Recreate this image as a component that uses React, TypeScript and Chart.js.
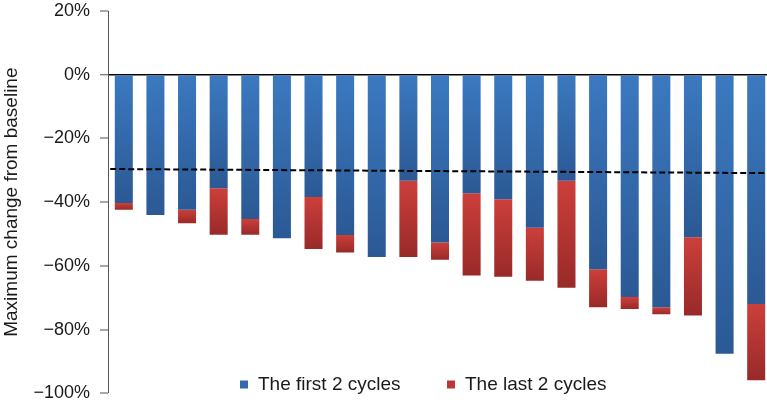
import { useEffect, useRef } from 'react';
import { Chart, registerables } from 'chart.js';

Chart.register(...registerables);

// Patients (hidden x axis), positioned by index
const categories = ['1', '2', '3', '4', '5', '6', '7', '8', '9', '10', '11', '12', '13', '14', '15', '16', '17', '18', '19', '20', '21'];
// Maximum change after the first 2 cycles (%)
const firstTwoCycles = [-40.3, -44.0, -42.4, -35.6, -45.3, -51.3, -38.4, -50.3, -57.2, -33.3, -52.7, -37.2, -39.1, -48.0, -33.3, -61.1, -69.8, -73.0, -51.0, -87.6, -72.0];
// Maximum change after the last 2 cycles (%)
const lastTwoCycles = [-42.4, -44.0, -46.6, -50.2, -50.2, -51.3, -54.7, -55.8, -57.2, -57.2, -58.1, -63.0, -63.4, -64.7, -66.9, -73.0, -73.5, -75.2, -75.6, -87.6, -95.9];
// Dashed trend line (x in patient-index units)
const trendX = [-0.43, 20.5];
const trendY = [-29.6, -30.9];
// Y tick values
const yTicks = [20, 0, -20, -40, -60, -80, -100];

const seriesLabels = ['The first 2 cycles', 'The last 2 cycles'];

const FONT = '"Liberation Sans", Arial, Helvetica, sans-serif';
const BLUE_TOP = '#3b79c0';
const BLUE_BOT = '#2b5994';
const RED_TOP = '#cc3f3b';
const RED_BOT = '#982a29';
const BLUE_MID = '#3468ad';
const RED_MID = '#bb3634';

function gradientFor(ctx: any, top: string, bottom: string, startOf: (i: number) => number, endOf: (i: number) => number) {
  const chart = ctx.chart;
  const y = chart.scales && chart.scales.y;
  if (!y || ctx.type !== 'data') return top;
  const i = ctx.dataIndex;
  const y0 = y.getPixelForValue(startOf(i));
  const y1 = y.getPixelForValue(endOf(i));
  if (!isFinite(y0) || !isFinite(y1) || Math.abs(y1 - y0) < 1) return top;
  const g = chart.ctx.createLinearGradient(0, y0, 0, y1);
  g.addColorStop(0, top);
  g.addColorStop(1, bottom);
  return g;
}

const legendPlugin = {
  id: 'customLegend',
  afterDraw(chart: any) {
    const ctx = chart.ctx;
    const items = [
      { text: seriesLabels[0], color: BLUE_MID, x: 240 },
      { text: seriesLabels[1], color: RED_MID, x: 447 },
    ];
    const cy = 384.5;
    ctx.save();
    ctx.font = `19px ${FONT}`;
    ctx.textBaseline = 'middle';
    ctx.textAlign = 'left';
    for (const it of items) {
      ctx.fillStyle = it.color;
      ctx.fillRect(it.x, cy - 4, 8, 8);
      ctx.fillStyle = '#1a1a1a';
      ctx.fillText(it.text, it.x + 18, cy);
    }
    ctx.restore();
  },
};

export default function App() {
  const ref = useRef<HTMLCanvasElement>(null);

  useEffect(() => {
    const redValues = lastTwoCycles.map((v, i) => +(v - firstTwoCycles[i]).toFixed(1));
    const chart = new Chart(ref.current as HTMLCanvasElement, {
      type: 'bar',
      data: {
        datasets: [
          {
            type: 'line',
            label: 'trend',
            data: trendX.map((x, i) => ({ x, y: trendY[i] })),
            stack: 'trend',
            borderColor: '#000',
            borderWidth: 2,
            borderDash: [6, 3],
            pointRadius: 0,
            fill: false,
            order: 0,
          } as any,
          {
            label: seriesLabels[0],
            data: categories.map((_, i) => ({ x: i, y: firstTwoCycles[i] })),
            stack: 'bars',
            grouped: false,
            backgroundColor: (c: any) => gradientFor(c, BLUE_TOP, BLUE_BOT, () => 0, (i) => firstTwoCycles[i]),
            borderWidth: 0,
            barPercentage: 0.57,
            categoryPercentage: 1,
            order: 1,
          },
          {
            label: seriesLabels[1],
            data: categories.map((_, i) => ({ x: i, y: redValues[i] })),
            stack: 'bars',
            grouped: false,
            backgroundColor: (c: any) => gradientFor(c, RED_TOP, RED_BOT, (i) => firstTwoCycles[i], (i) => lastTwoCycles[i]),
            borderWidth: 0,
            barPercentage: 0.57,
            categoryPercentage: 1,
            order: 1,
          },
        ],
      },
      options: {
        responsive: false,
        animation: false,
        devicePixelRatio: 1,
        layout: { padding: { top: 11, bottom: 11.7, left: 0, right: 0 } },
        plugins: {
          legend: { display: false },
          tooltip: { enabled: false },
        },
        scales: {
          x: {
            type: 'linear',
            display: false,
            offset: false,
            min: -0.5,
            max: categories.length - 0.5,
            afterBuildTicks: (scale: any) => {
              scale.ticks = categories.map((_, i) => ({ value: i }));
            },
          },
          y: {
            stacked: true,
            min: -100,
            max: 20,
            z: 1,
            afterBuildTicks: (scale: any) => {
              scale.ticks = yTicks.map((v) => ({ value: v }));
            },
            afterFit: (scale: any) => {
              scale.width = 108;
              scale.paddingTop = 0;
              scale.paddingBottom = 0;
            },
            border: { display: true, color: '#555', width: 1 },
            grid: {
              color: (c: any) => (c.tick && c.tick.value === 0 ? '#000' : 'rgba(0,0,0,0)'),
              lineWidth: (c: any) => (c.tick && c.tick.value === 0 ? 1.5 : 0),
              tickColor: '#555',
              tickLength: 8,
              tickWidth: 1,
              drawOnChartArea: true,
            },
            ticks: {
              padding: 10,
              color: '#1a1a1a',
              font: { family: FONT, size: 18 },
              callback: (v: any) => (Number(v) < 0 ? '\u2212' + Math.abs(Number(v)) : String(v)) + '%',
            },
            title: {
              display: true,
              text: 'Maximum change from baseline',
              color: '#1a1a1a',
              font: { family: FONT, size: 19 },
              padding: { top: 0, bottom: 0 },
            },
          },
        },
      },
      plugins: [legendPlugin],
    });
    return () => chart.destroy();
  }, []);

  return (
    <div style={{ position: 'fixed', left: 0, top: 0, width: 767, height: 405, overflow: 'hidden', background: '#fff' }}>
      <canvas ref={ref} width={772} height={405} style={{ display: 'block', width: 772, height: 405 }} />
    </div>
  );
}
